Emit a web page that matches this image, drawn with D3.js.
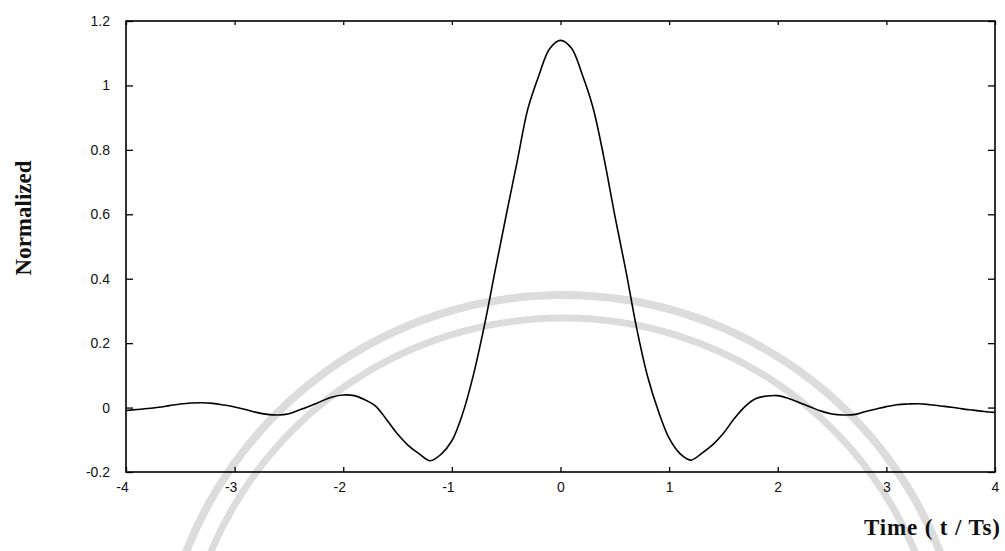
<!DOCTYPE html>
<html>
<head>
<meta charset="utf-8">
<script src="https://cdn.jsdelivr.net/npm/d3@7"></script>
<style>
  html, body { margin: 0; padding: 0; background: #fff; }
  svg { display: block; }
</style>
</head>
<body>
<svg id="chart" width="1005" height="551"></svg>
<script>
// ---- data ----
const timeValues = d3.range(-40, 41).map(i => i / 10); // t / Ts, -4 .. 4 step 0.1
const pulseValues = [
  -0.009, -0.006, -0.003, 0.001, 0.006, 0.011, 0.014, 0.015, 0.013, 0.008,   // -4.0 .. -3.1
   0.002, -0.006, -0.015, -0.021, -0.023, -0.019, -0.007, 0.006, 0.020, 0.033, // -3.0 .. -2.1
   0.039, 0.037, 0.024, 0.004, -0.038, -0.082, -0.118, -0.144, -0.165, -0.145, // -2.0 .. -1.1
  -0.103, -0.018, 0.104, 0.256, 0.428, 0.597, 0.762, 0.928, 1.030, 1.114,     // -1.0 .. -0.1
   1.140,                                                                      // 0
   1.116, 1.034, 0.930, 0.775, 0.596, 0.428, 0.248, 0.099, -0.010, -0.095,    // 0.1 .. 1.0
  -0.143, -0.163, -0.142, -0.116, -0.080, -0.034, 0.004, 0.028, 0.036, 0.037, // 1.1 .. 2.0
   0.028, 0.015, 0.002, -0.011, -0.020, -0.023, -0.022, -0.013, -0.005, 0.003, // 2.1 .. 3.0
   0.009, 0.011, 0.012, 0.009, 0.005, 0.001, -0.004, -0.008, -0.012, -0.015   // 3.1 .. 4.0
];
const xTickValues = [-4, -3, -2, -1, 0, 1, 2, 3, 4];
const yTickValues = [-0.2, 0, 0.2, 0.4, 0.6, 0.8, 1, 1.2];
const xTitle = "Time ( t / Ts)";
const yTitle = "Normalized";

// ---- layout ----
const pLeft = 126, pRight = 995, pTop = 21, pBottom = 472;
const svg = d3.select("#chart");

const x = d3.scaleLinear().domain([-4, 4]).range([pLeft, pRight]);
const y = d3.scaleLinear().domain([-0.2, 1.2]).range([pBottom, pTop]);

// faint scanned watermark arcs (background decoration)
const wm = svg.append("g").attr("fill", "none").attr("stroke", "#dcdcdc");
[[405, 8], [382, 7]].forEach(([r, w]) => {
  wm.append("path")
    .attr("transform", "translate(563,700)")
    .attr("stroke-width", w)
    .attr("d", d3.arc()({innerRadius: r, outerRadius: r, startAngle: -1.25, endAngle: 1.25}));
});

const fmt = d => String(+d.toFixed(1));

// axes
const xAxis = svg.append("g")
  .attr("transform", `translate(0,${pBottom})`)
  .call(d3.axisBottom(x).tickValues(xTickValues).tickSize(-5).tickSizeOuter(0).tickPadding(10).tickFormat(fmt));
const yAxis = svg.append("g")
  .attr("transform", `translate(${pLeft},0)`)
  .call(d3.axisLeft(y).tickValues(yTickValues).tickSize(-7).tickSizeOuter(0).tickPadding(16).tickFormat(fmt));
const xTop = svg.append("g")
  .attr("transform", `translate(0,${pTop})`)
  .call(d3.axisTop(x).tickValues(xTickValues).tickSize(-4).tickSizeOuter(0).tickFormat(""));
const yRight = svg.append("g")
  .attr("transform", `translate(${pRight},0)`)
  .call(d3.axisRight(y).tickValues(yTickValues).tickSize(-7).tickSizeOuter(0).tickFormat(""));

[xAxis, yAxis, xTop, yRight].forEach(g => {
  g.select(".domain").remove();
  g.selectAll(".tick line").attr("stroke", "#000").attr("stroke-width", 1.3);
  g.selectAll(".tick text")
    .attr("fill", "#111")
    .style("font-family", "'Liberation Sans', Arial, sans-serif")
    .style("font-size", "14px");
});
// negative x labels sit slightly left of their ticks in the reference
xAxis.selectAll(".tick text").filter(d => d < 0).attr("dx", "-4");

// frame
svg.append("rect")
  .attr("x", pLeft).attr("y", pTop)
  .attr("width", pRight - pLeft).attr("height", pBottom - pTop)
  .attr("fill", "none").attr("stroke", "#000").attr("stroke-width", 1.6);

// curve
const pts = timeValues.map((t, i) => [t, pulseValues[i]]);
svg.append("path")
  .datum(pts)
  .attr("fill", "none")
  .attr("stroke", "#000")
  .attr("stroke-width", 1.6)
  .attr("d", d3.line().x(d => x(d[0])).y(d => y(d[1])).curve(d3.curveCatmullRom));

// titles
svg.append("text")
  .attr("x", 1000).attr("y", 535)
  .attr("text-anchor", "end")
  .attr("textLength", 136)
  .attr("lengthAdjust", "spacing")
  .style("font-family", "'Liberation Serif', 'Times New Roman', serif")
  .style("font-weight", "bold")
  .style("font-size", "23px")
  .attr("fill", "#111")
  .text(xTitle);

svg.append("text")
  .attr("transform", "translate(31,218) rotate(-90)")
  .attr("text-anchor", "middle")
  .style("font-family", "'Liberation Serif', 'Times New Roman', serif")
  .style("font-weight", "bold")
  .style("font-size", "23px")
  .attr("fill", "#111")
  .text(yTitle);
</script>
</body>
</html>
